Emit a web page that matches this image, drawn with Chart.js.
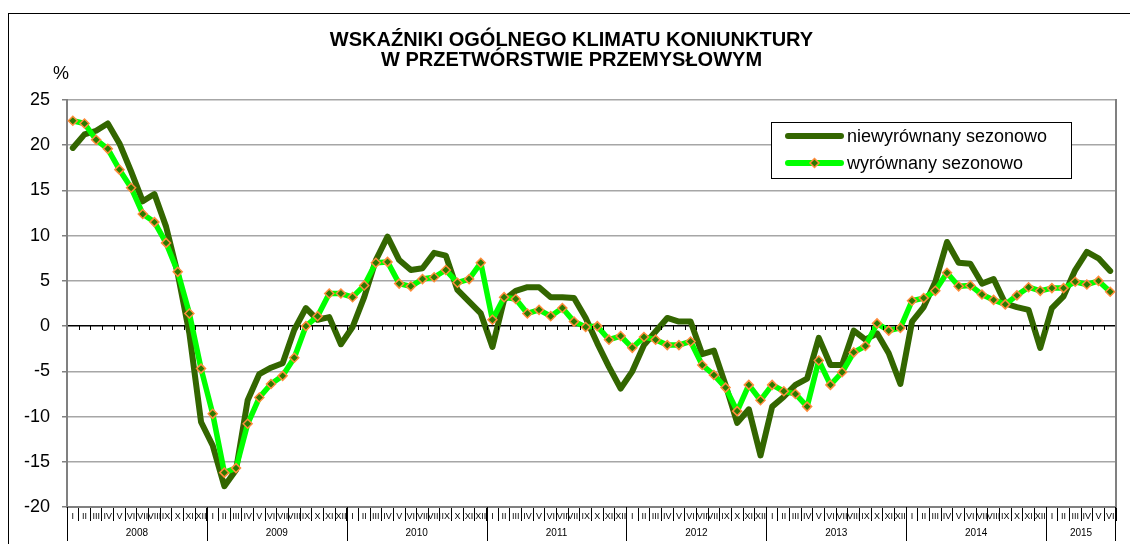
<!DOCTYPE html>
<html>
<head>
<meta charset="utf-8">
<script src="https://cdn.jsdelivr.net/npm/chart.js@4.4.1/dist/chart.umd.min.js"></script>
<style>
html, body { margin: 0; padding: 0; overflow: hidden; background: #fff; }
#frame { position: absolute; left: 8px; top: 13px; width: 1200px; height: 600px; border: 1.5px solid #000; }
#wrap { position: absolute; left: 0; top: 0; width: 1143px; height: 556px; }
</style>
</head>
<body>
<div id="frame"></div>
<div id="wrap"><canvas id="myChart"></canvas></div>
<script>
const FONT = '"Liberation Sans", Arial, sans-serif';

const titleLines = ["WSKAŹNIKI OGÓLNEGO KLIMATU KONIUNKTURY", "W PRZETWÓRSTWIE PRZEMYSŁOWYM"];
const seriesNames = ["niewyrównany sezonowo", "wyrównany sezonowo"];
const monthNames = ["I", "II", "III", "IV", "V", "VI", "VII", "VIII", "IX", "X", "XI", "XII"];
const years = ["2008", "2009", "2010", "2011", "2012", "2013", "2014", "2015"];
const yTicks = [-20, -15, -10, -5, 0, 5, 10, 15, 20, 25];

// I.2008 - VI.2015
const niewyrownany = [
  19.7, 21.2, 21.6, 22.4, 20.2, 17.1, 13.8, 14.6, 11.0, 5.8, -0.8, -10.6,
  -13.2, -17.7, -15.9, -8.2, -5.3, -4.6, -4.1, -0.4, 2.0, 0.7, 1.0, -2.0,
  -0.1, 3.2, 7.3, 9.9, 7.3, 6.2, 6.4, 8.1, 7.8, 4.0, 2.7, 1.4,
  -2.3, 2.9, 3.9, 4.3, 4.3, 3.2, 3.2, 3.1, 0.9, -1.9, -4.5, -6.9,
  -5.0, -2.1, -0.6, 0.9, 0.5, 0.5, -3.1, -2.7, -6.5, -10.7, -9.2, -14.3,
  -8.9, -7.8, -6.5, -5.8, -1.3, -4.3, -4.3, -0.5, -1.5, -0.8, -3.0, -6.4,
  0.5, 2.1, 4.9, 9.3, 7.0, 6.9, 4.7, 5.2, 2.5, 2.1, 1.8, -2.4,
  2.0, 3.3, 6.2, 8.2, 7.5, 6.1
];
const wyrownany = [
  22.7, 22.4, 20.6, 19.6, 17.3, 15.3, 12.4, 11.5, 9.2, 6.0, 1.4, -4.7,
  -9.7, -16.2, -15.7, -10.8, -7.9, -6.4, -5.5, -3.5, 0.0, 1.1, 3.6, 3.6,
  3.2, 4.5, 7.0, 7.1, 4.7, 4.4, 5.2, 5.4, 6.2, 4.8, 5.2, 7.0,
  0.7, 3.2, 3.0, 1.4, 1.8, 1.1, 2.0, 0.5, -0.1, 0.0, -1.5, -1.1,
  -2.4, -1.2, -1.5, -2.1, -2.1, -1.7, -4.3, -5.4, -6.8, -9.4, -6.5, -8.2,
  -6.5, -7.2, -7.5, -8.9, -3.8, -6.5, -5.1, -2.9, -2.2, 0.3, -0.5, -0.2,
  2.8, 3.1, 3.9, 5.9, 4.4, 4.5, 3.5, 2.9, 2.4, 3.4, 4.3, 3.9,
  4.2, 4.2, 4.9, 4.6, 5.0, 3.8
];

const labels = [];
for (let i = 0; i < niewyrownany.length; i++) labels.push(monthNames[i % 12]);

const colors = {
  dark: "#336600",
  light: "#00ff00",
  marker: "#2a7a00",
  markerBorder: "#ff8c3a",
  grid: "#a6a6a6",
  axis: "#808080"
};

// extra bits Excel draws: %, zero-line ticks, year row, legend box
const decor = {
  id: "decor",
  afterDraw(chart) {
    const { ctx, chartArea: a, scales: { x, y } } = chart;
    const step = x.getPixelForValue(1) - x.getPixelForValue(0);
    ctx.save();

    ctx.fillStyle = "#000";
    ctx.font = "18px " + FONT;
    ctx.textAlign = "center";
    ctx.textBaseline = "middle";
    ctx.fillText("%", a.left - 6, a.top - 26);

    // little ticks under zero line
    const y0 = Math.round(y.getPixelForValue(0));
    ctx.strokeStyle = "#000";
    ctx.lineWidth = 1;
    for (let i = 1; i < labels.length; i++) {
      const px = Math.round(x.getPixelForValue(i) - step / 2) + 0.5;
      ctx.beginPath();
      ctx.moveTo(px, y0);
      ctx.lineTo(px, y0 + 4);
      ctx.stroke();
    }

    // years
    ctx.font = "10px " + FONT;
    ctx.strokeStyle = "#000";
    years.forEach((yr, k) => {
      const first = k * 12;
      const last = Math.min(first + 11, labels.length - 1);
      const l = x.getPixelForValue(first) - step / 2;
      const r = x.getPixelForValue(last) + step / 2;
      ctx.beginPath();
      ctx.moveTo(Math.round(l) + 0.5, a.bottom);
      ctx.lineTo(Math.round(l) + 0.5, a.bottom + 34);
      if (last === labels.length - 1) {
        ctx.moveTo(Math.round(r) - 0.5, a.bottom);
        ctx.lineTo(Math.round(r) - 0.5, a.bottom + 34);
      }
      ctx.stroke();
      ctx.fillText(yr, (l + r) / 2, a.bottom + 26);
    });

    // legend
    const bw = 300, bh = 56;
    const bx = a.right - 45 - bw, by = a.top + 22;
    ctx.fillStyle = "#fff";
    ctx.fillRect(bx, by, bw, bh);
    ctx.strokeStyle = "#000";
    ctx.lineWidth = 1;
    ctx.strokeRect(bx + 0.5, by + 0.5, bw, bh);
    ctx.lineCap = "round";
    chart.data.datasets.forEach((ds, i) => {
      const ly = by + 14 + i * 27;
      ctx.strokeStyle = ds.borderColor;
      ctx.lineWidth = 6;
      ctx.beginPath();
      ctx.moveTo(bx + 17, ly);
      ctx.lineTo(bx + 70, ly);
      ctx.stroke();
      if (ds.pointRadius) {
        const cx = bx + 43.5, r = ds.pointRadius;
        ctx.beginPath();
        ctx.moveTo(cx, ly - r);
        ctx.lineTo(cx + r, ly);
        ctx.lineTo(cx, ly + r);
        ctx.lineTo(cx - r, ly);
        ctx.closePath();
        ctx.fillStyle = ds.pointBackgroundColor;
        ctx.fill();
        ctx.lineWidth = ds.pointBorderWidth;
        ctx.strokeStyle = ds.pointBorderColor;
        ctx.stroke();
      }
      ctx.fillStyle = "#000";
      ctx.font = "18px " + FONT;
      ctx.textAlign = "left";
      ctx.fillText(ds.label, bx + 76, ly + 1);
    });
    ctx.restore();
  }
};

const ctx = document.getElementById("myChart");

const chart = new Chart(ctx, {
  type: "line",
  data: {
    labels: labels,
    datasets: [
      {
        label: seriesNames[0],
        data: niewyrownany,
        borderColor: colors.dark,
        borderWidth: 6,
        pointRadius: 0,
        tension: 0,
        borderJoinStyle: "round",
        borderCapStyle: "round",
        order: 2,
      },
      {
        label: seriesNames[1],
        data: wyrownany,
        borderColor: colors.light,
        borderWidth: 5.5,
        tension: 0,
        borderJoinStyle: "round",
        pointStyle: "rectRot",
        pointRadius: 4.5,
        pointBackgroundColor: colors.marker,
        pointBorderColor: colors.markerBorder,
        pointBorderWidth: 1.5,
        order: 1,
      },
    ],
  },
  options: {
    responsive: true,
    maintainAspectRatio: false,
    animation: false,
    layout: { padding: 0 },
    scales: {
      x: {
        offset: true,
        grid: { offset: true, drawOnChartArea: false, tickLength: 14, color: "#000", lineWidth: 1 },
        border: { color: colors.axis, width: 2 },
        ticks: {
          autoSkip: false,
          maxRotation: 0,
          minRotation: 0,
          padding: -10,
          color: "#000",
          font: { size: 9, family: FONT },
        },
        afterFit: (s) => { s.height = 49; },
      },
      y: {
        min: yTicks[0],
        max: yTicks[yTicks.length - 1],
        afterBuildTicks: (s) => { s.ticks = yTicks.map((v) => ({ value: v })); },
        ticks: { color: "#000", font: { size: 18, family: FONT }, padding: 12 },
        grid: {
          color: (c) => (c.tick && c.tick.value === 0 ? "#000" : colors.grid),
          lineWidth: 1.5,
          tickLength: 5,
          tickColor: colors.axis,
        },
        border: { color: colors.axis, width: 2 },
        afterFit: (s) => { s.width = 67; },
      },
      yR: {
        position: "right",
        min: yTicks[0],
        max: yTicks[yTicks.length - 1],
        ticks: { display: false },
        grid: { display: false, drawTicks: false },
        border: { color: colors.axis, width: 2 },
        afterFit: (s) => { s.width = 27; },
      },
    },
    plugins: {
      legend: { display: false },
      tooltip: { enabled: false },
      title: {
        display: true,
        text: titleLines,
        color: "#000",
        font: { size: 20, weight: "bold", family: FONT, lineHeight: 1.0 },
        padding: { top: 30, bottom: 30 },
      },
    },
  },
  plugins: [decor],
});
</script>
</body>
</html>
